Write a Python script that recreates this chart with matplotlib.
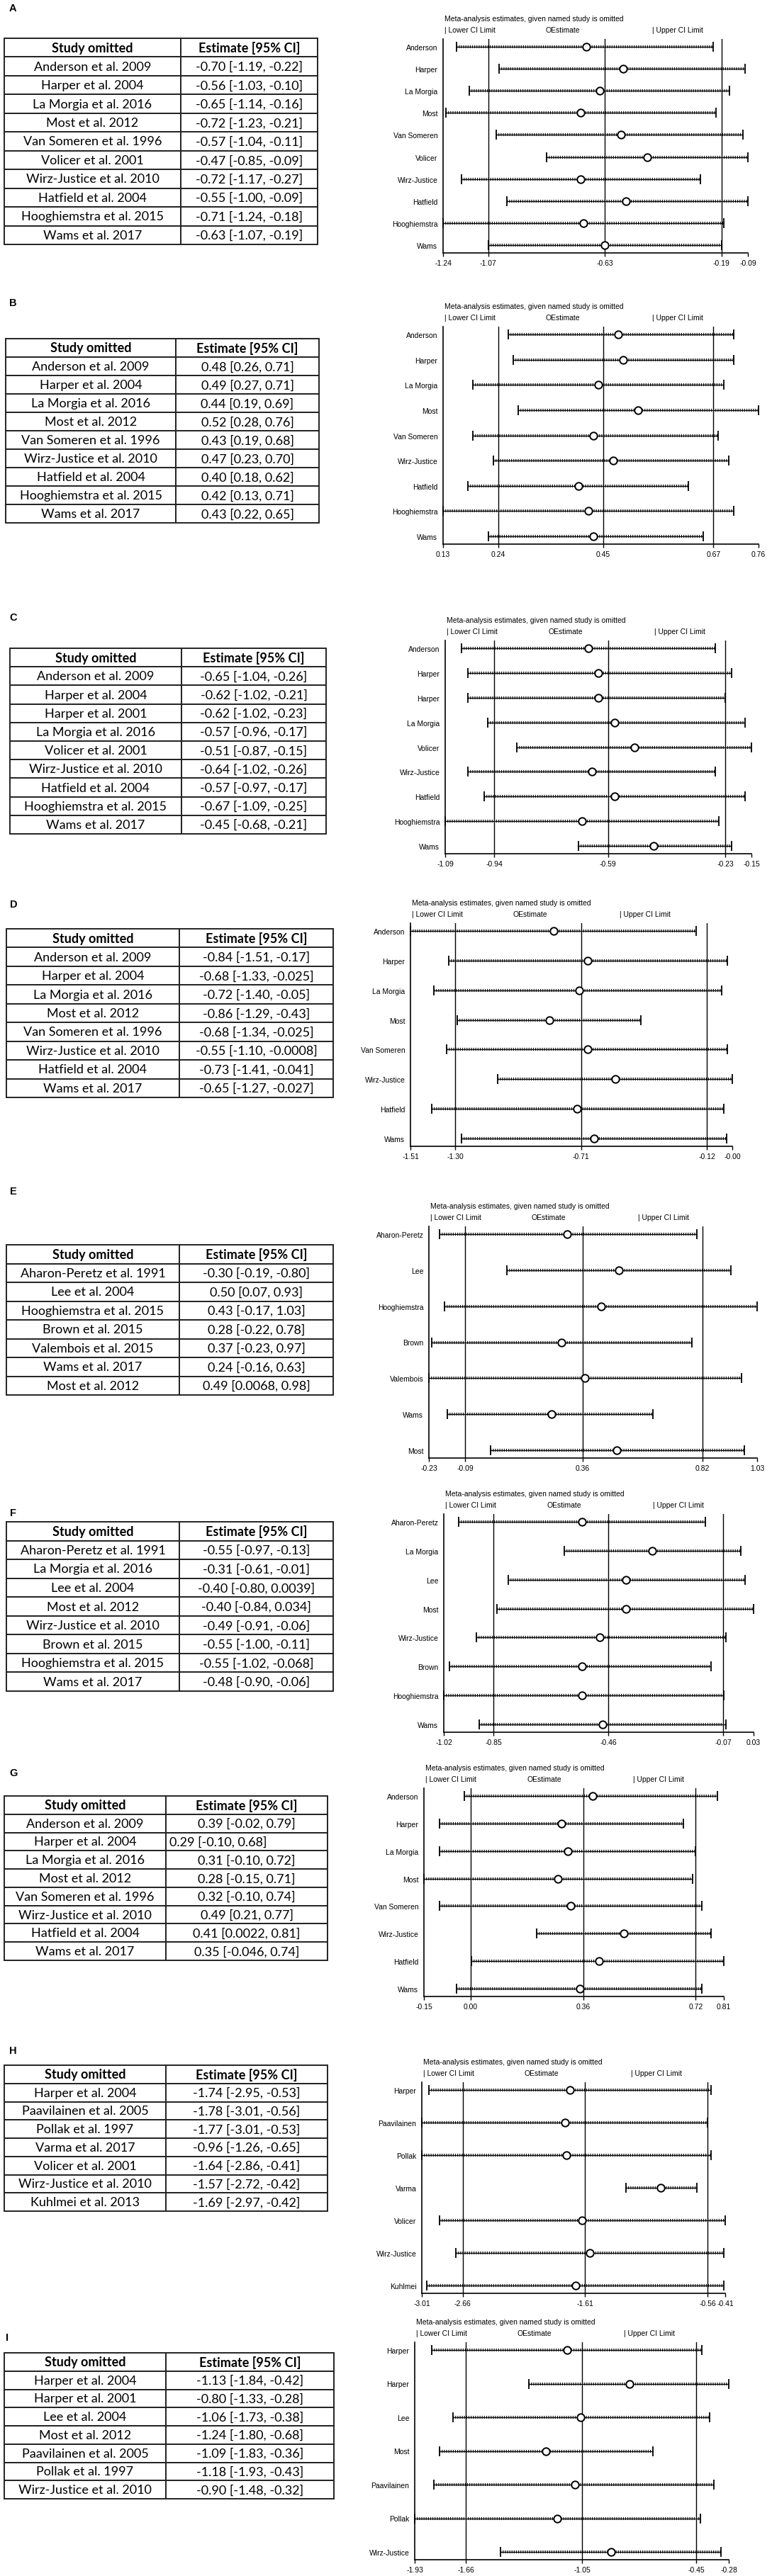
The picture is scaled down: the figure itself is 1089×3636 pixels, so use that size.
import matplotlib
matplotlib.use("Agg")
import matplotlib.pyplot as plt

W, H = 1089, 3637
DPI = 100

# ---------------- data ----------------
A_studies = ["Anderson et al. 2009", "Harper et al. 2004", "La Morgia et al. 2016", "Most et al. 2012",
             "Van Someren et al. 1996", "Volicer et al. 2001", "Wirz-Justice et al. 2010",
             "Hatfield et al. 2004", "Hooghiemstra et al. 2015", "Wams et al. 2017"]
A_cells = ["-0.70 [-1.19, -0.22]", "-0.56 [-1.03, -0.10]", "-0.65 [-1.14, -0.16]", "-0.72 [-1.23, -0.21]",
           "-0.57 [-1.04, -0.11]", "-0.47 [-0.85, -0.09]", "-0.72 [-1.17, -0.27]", "-0.55 [-1.00, -0.09]",
           "-0.71 [-1.24, -0.18]", "-0.63 [-1.07, -0.19]"]
A_est = [-0.70, -0.56, -0.65, -0.72, -0.57, -0.47, -0.72, -0.55, -0.71, -0.63]
A_lo = [-1.19, -1.03, -1.14, -1.23, -1.04, -0.85, -1.17, -1.00, -1.24, -1.07]
A_hi = [-0.22, -0.10, -0.16, -0.21, -0.11, -0.09, -0.27, -0.09, -0.18, -0.19]
A_overall = [-1.07, -0.63, -0.19]

B_studies = ["Anderson et al. 2009", "Harper et al. 2004", "La Morgia et al. 2016", "Most et al. 2012",
             "Van Someren et al. 1996", "Wirz-Justice et al. 2010", "Hatfield et al. 2004",
             "Hooghiemstra et al. 2015", "Wams et al. 2017"]
B_cells = ["0.48 [0.26, 0.71]", "0.49 [0.27, 0.71]", "0.44 [0.19, 0.69]", "0.52 [0.28, 0.76]",
           "0.43 [0.19, 0.68]", "0.47 [0.23, 0.70]", "0.40 [0.18, 0.62]", "0.42 [0.13, 0.71]",
           "0.43 [0.22, 0.65]"]
B_est = [0.48, 0.49, 0.44, 0.52, 0.43, 0.47, 0.40, 0.42, 0.43]
B_lo = [0.26, 0.27, 0.19, 0.28, 0.19, 0.23, 0.18, 0.13, 0.22]
B_hi = [0.71, 0.71, 0.69, 0.76, 0.68, 0.70, 0.62, 0.71, 0.65]
B_overall = [0.24, 0.45, 0.67]

C_studies = ["Anderson et al. 2009", "Harper et al. 2004", "Harper et al. 2001", "La Morgia et al. 2016",
             "Volicer et al. 2001", "Wirz-Justice et al. 2010", "Hatfield et al. 2004",
             "Hooghiemstra et al. 2015", "Wams et al. 2017"]
C_cells = ["-0.65 [-1.04, -0.26]", "-0.62 [-1.02, -0.21]", "-0.62 [-1.02, -0.23]", "-0.57 [-0.96, -0.17]",
           "-0.51 [-0.87, -0.15]", "-0.64 [-1.02, -0.26]", "-0.57 [-0.97, -0.17]", "-0.67 [-1.09, -0.25]",
           "-0.45 [-0.68, -0.21]"]
C_est = [-0.65, -0.62, -0.62, -0.57, -0.51, -0.64, -0.57, -0.67, -0.45]
C_lo = [-1.04, -1.02, -1.02, -0.96, -0.87, -1.02, -0.97, -1.09, -0.68]
C_hi = [-0.26, -0.21, -0.23, -0.17, -0.15, -0.26, -0.17, -0.25, -0.21]
C_overall = [-0.94, -0.59, -0.23]

D_studies = ["Anderson et al. 2009", "Harper et al. 2004", "La Morgia et al. 2016", "Most et al. 2012",
             "Van Someren et al. 1996", "Wirz-Justice et al. 2010", "Hatfield et al. 2004", "Wams et al. 2017"]
D_cells = ["-0.84 [-1.51, -0.17]", "-0.68 [-1.33, -0.025]", "-0.72 [-1.40, -0.05]", "-0.86 [-1.29, -0.43]",
           "-0.68 [-1.34, -0.025]", "-0.55 [-1.10, -0.0008]", "-0.73 [-1.41, -0.041]", "-0.65 [-1.27, -0.027]"]
D_est = [-0.84, -0.68, -0.72, -0.86, -0.68, -0.55, -0.73, -0.65]
D_lo = [-1.51, -1.33, -1.40, -1.29, -1.34, -1.10, -1.41, -1.27]
D_hi = [-0.17, -0.025, -0.05, -0.43, -0.025, -0.0008, -0.041, -0.027]
D_overall = [-1.30, -0.71, -0.12]

E_studies = ["Aharon-Peretz et al. 1991", "Lee et al. 2004", "Hooghiemstra et al. 2015", "Brown et al. 2015",
             "Valembois et al. 2015", "Wams et al. 2017", "Most et al. 2012"]
E_cells = ["-0.30 [-0.19, -0.80]", "0.50 [0.07, 0.93]", "0.43 [-0.17, 1.03]", "0.28 [-0.22, 0.78]",
           "0.37 [-0.23, 0.97]", "0.24 [-0.16, 0.63]", "0.49 [0.0068, 0.98]"]
E_est = [0.30, 0.50, 0.43, 0.28, 0.37, 0.24, 0.49]
E_lo = [-0.19, 0.07, -0.17, -0.22, -0.23, -0.16, 0.0068]
E_hi = [0.80, 0.93, 1.03, 0.78, 0.97, 0.63, 0.98]
E_overall = [-0.09, 0.36, 0.82]

F_studies = ["Aharon-Peretz et al. 1991", "La Morgia et al. 2016", "Lee et al. 2004", "Most et al. 2012",
             "Wirz-Justice et al. 2010", "Brown et al. 2015", "Hooghiemstra et al. 2015", "Wams et al. 2017"]
F_cells = ["-0.55 [-0.97, -0.13]", "-0.31 [-0.61, -0.01]", "-0.40 [-0.80, 0.0039]", "-0.40 [-0.84, 0.034]",
           "-0.49 [-0.91, -0.06]", "-0.55 [-1.00, -0.11]", "-0.55 [-1.02, -0.068]", "-0.48 [-0.90, -0.06]"]
F_est = [-0.55, -0.31, -0.40, -0.40, -0.49, -0.55, -0.55, -0.48]
F_lo = [-0.97, -0.61, -0.80, -0.84, -0.91, -1.00, -1.02, -0.90]
F_hi = [-0.13, -0.01, 0.0039, 0.034, -0.06, -0.11, -0.068, -0.06]
F_overall = [-0.85, -0.46, -0.07]

G_studies = ["Anderson et al. 2009", "Harper et al. 2004", "La Morgia et al. 2016", "Most et al. 2012",
             "Van Someren et al. 1996", "Wirz-Justice et al. 2010", "Hatfield et al. 2004", "Wams et al. 2017"]
G_cells = ["0.39 [-0.02, 0.79]", "0.29 [-0.10, 0.68]", "0.31 [-0.10, 0.72]", "0.28 [-0.15, 0.71]",
           "0.32 [-0.10, 0.74]", "0.49 [0.21, 0.77]", "0.41 [0.0022, 0.81]", "0.35 [-0.046, 0.74]"]
G_est = [0.39, 0.29, 0.31, 0.28, 0.32, 0.49, 0.41, 0.35]
G_lo = [-0.02, -0.10, -0.10, -0.15, -0.10, 0.21, 0.0022, -0.046]
G_hi = [0.79, 0.68, 0.72, 0.71, 0.74, 0.77, 0.81, 0.74]
G_overall = [0.00, 0.36, 0.72]

H_studies = ["Harper et al. 2004", "Paavilainen et al. 2005", "Pollak et al. 1997", "Varma et al. 2017",
             "Volicer et al. 2001", "Wirz-Justice et al. 2010", "Kuhlmei et al. 2013"]
H_cells = ["-1.74 [-2.95, -0.53]", "-1.78 [-3.01, -0.56]", "-1.77 [-3.01, -0.53]", "-0.96 [-1.26, -0.65]",
           "-1.64 [-2.86, -0.41]", "-1.57 [-2.72, -0.42]", "-1.69 [-2.97, -0.42]"]
H_est = [-1.74, -1.78, -1.77, -0.96, -1.64, -1.57, -1.69]
H_lo = [-2.95, -3.01, -3.01, -1.26, -2.86, -2.72, -2.97]
H_hi = [-0.53, -0.56, -0.53, -0.65, -0.41, -0.42, -0.42]
H_overall = [-2.66, -1.61, -0.56]

I_studies = ["Harper et al. 2004", "Harper et al. 2001", "Lee et al. 2004", "Most et al. 2012",
             "Paavilainen et al. 2005", "Pollak et al. 1997", "Wirz-Justice et al. 2010"]
I_cells = ["-1.13 [-1.84, -0.42]", "-0.80 [-1.33, -0.28]", "-1.06 [-1.73, -0.38]", "-1.24 [-1.80, -0.68]",
           "-1.09 [-1.83, -0.36]", "-1.18 [-1.93, -0.43]", "-0.90 [-1.48, -0.32]"]
I_est = [-1.13, -0.80, -1.06, -1.24, -1.09, -1.18, -0.90]
I_lo = [-1.84, -1.33, -1.73, -1.80, -1.83, -1.93, -1.48]
I_hi = [-0.42, -0.28, -0.38, -0.68, -0.36, -0.43, -0.32]
I_overall = [-1.66, -1.05, -0.45]

PANELS = {
    "A": (A_studies, A_cells, A_est, A_lo, A_hi, A_overall),
    "B": (B_studies, B_cells, B_est, B_lo, B_hi, B_overall),
    "C": (C_studies, C_cells, C_est, C_lo, C_hi, C_overall),
    "D": (D_studies, D_cells, D_est, D_lo, D_hi, D_overall),
    "E": (E_studies, E_cells, E_est, E_lo, E_hi, E_overall),
    "F": (F_studies, F_cells, F_est, F_lo, F_hi, F_overall),
    "G": (G_studies, G_cells, G_est, G_lo, G_hi, G_overall),
    "H": (H_studies, H_cells, H_est, H_lo, H_hi, H_overall),
    "I": (I_studies, I_cells, I_est, I_lo, I_hi, I_overall),
}

# ---------------- layout (pixels, y from top) ----------------
LAYOUT = {
    "A": dict(letter=(13, 12), table=(6, 55, 448, 346), div=255, plot=(625, 56, 1055, 358)),
    "B": dict(letter=(13, 428), table=(8, 479, 450, 739), div=248, plot=(625, 462, 1070, 769)),
    "C": dict(letter=(13, 872), table=(14, 916, 460, 1178), div=256, plot=(628, 905, 1060, 1206)),
    "D": dict(letter=(14, 1277), table=(9, 1312, 470, 1550), div=253, plot=(579, 1304, 1033, 1619)),
    "E": dict(letter=(14, 1682), table=(9, 1758, 470, 1970), div=253, plot=(605, 1732, 1068, 2059)),
    "F": dict(letter=(14, 2136), table=(9, 2149, 470, 2388), div=253, plot=(626, 2138, 1063, 2446)),
    "G": dict(letter=(13, 2503), table=(6, 2536, 462, 2768), div=234, plot=(598, 2525, 1021, 2819)),
    "H": dict(letter=(13, 2895), table=(6, 2916, 462, 3122), div=234, plot=(595, 2940, 1023, 3238)),
    "I": dict(letter=(8, 3300), table=(6, 3322, 471, 3528), div=234, plot=(585, 3307, 1028, 3614)),
}
LEFT_ALIGNED = {("G", 1)}  # one cell in G is left aligned in the original

PLOT_FONT = "Liberation Sans"
TABLE_FONT = "Lato"
plt.rcParams["font.family"] = PLOT_FONT

fig = plt.figure(figsize=(W / DPI, H / DPI), dpi=DPI)


def fbox(x0, y0, x1, y1):
    return [x0 / W, 1 - y1 / H, (x1 - x0) / W, (y1 - y0) / H]


def fxy(x, y):
    return x / W, 1 - y / H


def short(name):
    return name.split(" et al.")[0]


def draw_table(key, studies, cells, box, div):
    x0, y0, x1, y1 = box
    ax = fig.add_axes(fbox(*box))
    ax.axis("off")
    rows = [[s, c] for s, c in zip(studies, cells)]
    tab = ax.table(cellText=rows, colLabels=["Study omitted", "Estimate [95% CI]"],
                   colWidths=[(div - x0) / (x1 - x0), (x1 - div) / (x1 - x0)],
                   cellLoc="center", bbox=[0, 0, 1, 1])
    tab.auto_set_font_size(False)
    for (r, c), cell in tab.get_celld().items():
        cell.set_edgecolor("#222222")
        cell.set_linewidth(1.4)
        t = cell.get_text()
        t.set_fontsize(13)
        t.set_fontfamily(TABLE_FONT)
        if r == 0:
            t.set_fontweight("bold")
        if (key, r - 1) in LEFT_ALIGNED and c == 1:
            cell.PAD = 0.02
            cell._loc = "left"
            t.set_horizontalalignment("left")


def draw_forest(studies, est, lo, hi, overall, box):
    x0, y0, x1, y1 = box
    ax = fig.add_axes(fbox(*box))
    n = len(est)
    ys = list(range(n))
    step = ((y1 - y0) - 22) / (n - 1)
    pad = 11 / step
    xmin, xmax = min(lo), max(hi)
    ax.set_xlim(xmin, xmax)
    ax.set_ylim(n - 1 + pad, -pad)

    for v in overall:
        ax.axvline(v, color="black", lw=1.0, zorder=1)
    # CI bars: thin core with dense tick hatching on top
    ax.hlines(ys, lo, hi, color="black", lw=0.9, zorder=2)
    ax.hlines(ys, lo, hi, color="#111111", lw=3.0, linestyles=(0, (0.3, 0.45)), zorder=2)
    ax.plot(lo, ys, ls="none", marker="|", ms=10, mew=1.3, color="black", zorder=3, clip_on=False)
    ax.plot(hi, ys, ls="none", marker="|", ms=10, mew=1.3, color="black", zorder=3, clip_on=False)
    ax.plot(est, ys, ls="none", marker="o", ms=7.5, mfc="white", mec="black", mew=1.4, zorder=4,
            clip_on=False)

    ticks = [xmin] + list(overall) + [xmax]
    ax.set_xticks(ticks)
    ax.set_xticklabels([f"{t:.2f}" for t in ticks])
    ax.set_yticks(ys)
    ax.set_yticklabels([short(s) for s in studies])
    ax.tick_params(axis="y", length=0, pad=5.5, labelsize=7.5)
    ax.tick_params(axis="x", length=3.5, width=1.0, pad=3, labelsize=7.5, direction="out")
    for side in ("top", "right"):
        ax.spines[side].set_visible(False)
    for side in ("left", "bottom"):
        ax.spines[side].set_linewidth(1.2)

    fig.text(*fxy(x0 + 2, y0 - 29), "Meta-analysis estimates, given named study is omitted",
             fontsize=7.5, ha="left", va="center")
    fig.text(*fxy(x0 + 2, y0 - 13), "| Lower CI Limit", fontsize=7.5, ha="left", va="center")
    fig.text(*fxy(x0 + 145, y0 - 13), "OEstimate", fontsize=7.5, ha="left", va="center")
    fig.text(*fxy(x0 + 295, y0 - 13), "| Upper CI Limit", fontsize=7.5, ha="left", va="center")


for key, (studies, cells, est, lo, hi, overall) in PANELS.items():
    lay = LAYOUT[key]
    fig.text(*fxy(*lay["letter"]), key, fontsize=10.5, fontweight="bold", ha="left", va="center")
    draw_table(key, studies, cells, lay["table"], lay["div"])
    draw_forest(studies, est, lo, hi, overall, lay["plot"])

fig.savefig("out.png", dpi=DPI, facecolor="white")
